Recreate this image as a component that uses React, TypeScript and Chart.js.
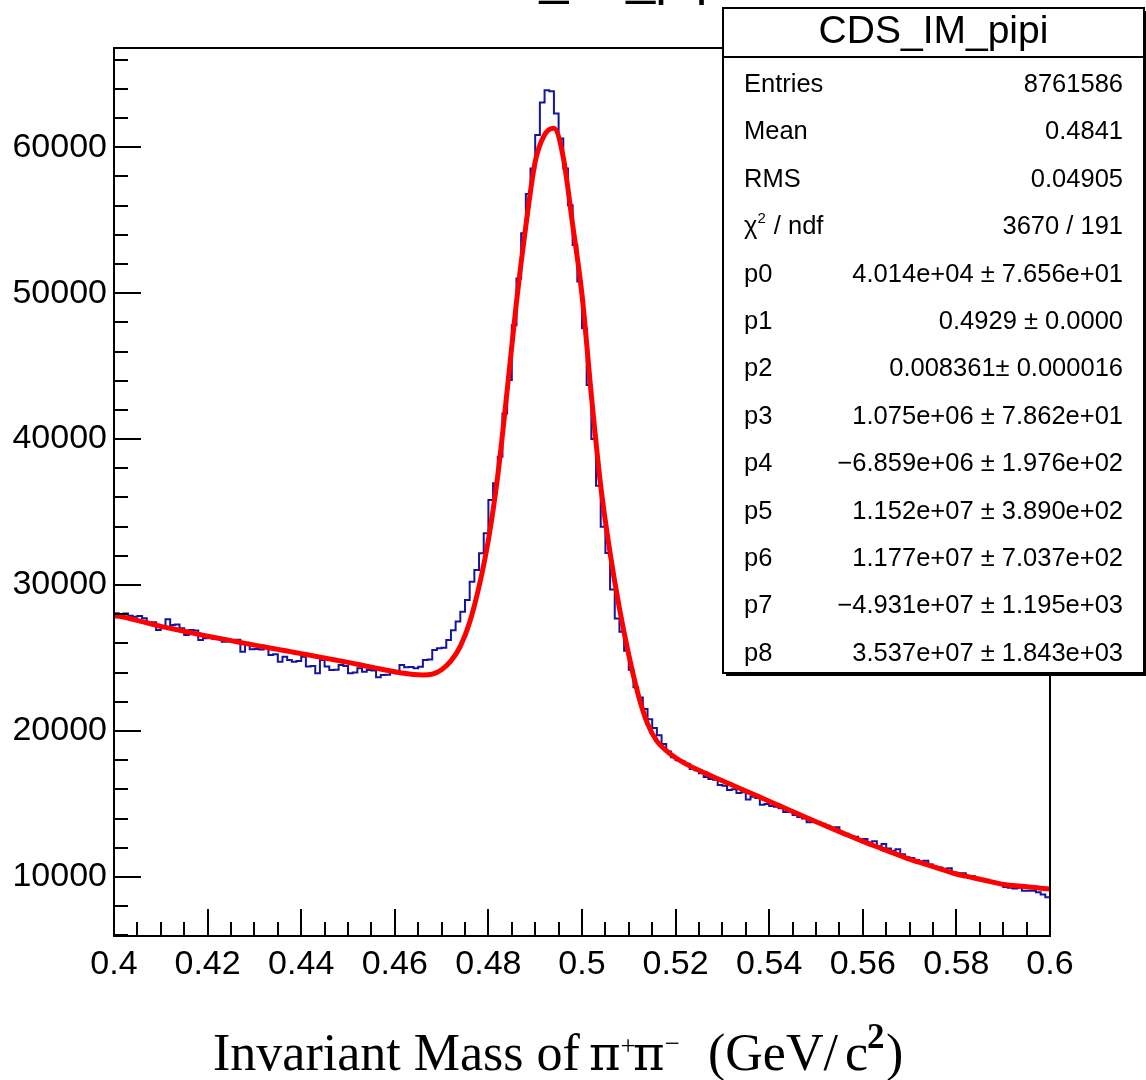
import React, { useEffect, useRef } from 'react';
import { Chart, registerables } from 'chart.js';

Chart.register(...registerables);

// ---------------- data ----------------
const X_MIN = 0.4;
const X_MAX = 0.6;
const BIN_WIDTH = 0.001; // 200 bins
const FIT_STEP = 0.002; // fit curve sampled every 0.002
const Y_MIN = 5950;
const Y_MAX = 66800;

const histCounts: number[] = [
  28060, 27950, 28050, 27900, 27830, 27880, 27720, 27380, 27450, 26920,
  27150, 27650, 27260, 27300, 27030, 26580, 26920, 26880, 26230, 26350,
  26400, 26320, 26380, 26120, 26150, 26230, 26250, 25430, 25890, 25600,
  25620, 25580, 25730, 25200, 25250, 24750, 25090, 24870, 24750, 24800,
  25090, 24410, 24450, 23950, 24870, 24410, 24180, 24200, 24520, 24450,
  23950, 24000, 24300, 24060, 24180, 24150, 23680, 23830, 23850, 24000,
  23950, 24520, 24360, 24380, 24300, 24400, 24870, 24900, 25550, 25660,
  25700, 26230,
  26900, 27500, 28170, 28970, 30230, 31030, 32170, 33540, 35830, 36970,
  38790, 41760, 44050, 47800, 51000, 54100, 56800, 58550, 60830, 63070,
  63910, 63840, 62310, 60600, 58550, 56030, 53300, 50800,
  47600, 43700, 40000, 36800, 34000, 32200, 29700, 27700, 26800, 25500,
  24200, 23000, 22300, 21500, 20800, 20200, 19700, 19100, 18600, 18200,
  18000, 17900, 17750, 17400, 17300, 17100, 16850, 16700, 16650, 16300,
  16250, 15950, 16000, 15750, 15800, 15300, 15500, 15400, 14950, 15000,
  14850, 14800, 14700, 14450, 14500, 14250, 14100, 14000, 13750, 13800,
  13750, 13650, 13500, 13350, 13400, 13000, 12950, 12800, 12750, 12500,
  12600, 12350, 12450, 12100, 12250, 11950, 11800, 11900, 11550, 11350,
  11300, 11150, 11050, 11100, 10850, 10700, 10650, 10550, 10600, 10300,
  10150, 10250, 10050, 10050, 9900, 9850, 9800, 9650, 9600, 9550,
  9300, 9250, 9200, 9250, 9050, 9050, 9050, 8950, 8800, 8600,
];

const fitValues: number[] = [
  27900, 27800, 27650, 27490, 27330, 27170, 27036, 26900, 26763, 26627,
  26491, 26369, 26248, 26126, 26005, 25883, 25766, 25650, 25533, 25417,
  25300, 25180, 25060, 24940, 24819, 24699, 24568, 24437, 24306, 24175,
  24061, 23950, 23870, 23840, 23900, 24200, 24800, 25800, 27450, 29900,
  33100, 37500, 43300, 49400, 54600, 59000, 60850, 61300, 59300, 54700,
  49900, 43000, 36800, 32200, 28400, 25200, 22500, 20500, 19300, 18659,
  18168, 17779, 17451, 17155, 16864, 16591, 16309, 16027, 15746, 15464,
  15182, 14901, 14620, 14339, 14058, 13777, 13508, 13238, 12969, 12699,
  12430, 12186, 11942, 11698, 11454, 11210, 11007, 10804, 10602, 10399,
  10196, 10053, 9909, 9766, 9622, 9479, 9416, 9353, 9291, 9228,
  9165,
];

const xTickValues = [0.4, 0.42, 0.44, 0.46, 0.48, 0.5, 0.52, 0.54, 0.56, 0.58, 0.6];
const xTickLabels = ['0.4', '0.42', '0.44', '0.46', '0.48', '0.5', '0.52', '0.54', '0.56', '0.58', '0.6'];
const yTickValues = [10000, 20000, 30000, 40000, 50000, 60000];
const yTickLabels = ['10000', '20000', '30000', '40000', '50000', '60000'];
const X_MINOR_STEP = 0.005;
const Y_MINOR_STEP = 2000;

const plotTitle = 'CDS_IM_pipi';
const statsTitle = 'CDS_IM_pipi';
const statsLabels = ['Entries', 'Mean', 'RMS', 'CHI2', 'p0', 'p1', 'p2', 'p3', 'p4', 'p5', 'p6', 'p7', 'p8'];
const statsValues = [
  '8761586',
  '0.4841',
  '0.04905',
  '3670 / 191',
  '4.014e+04 \u00b1 7.656e+01',
  '0.4929 \u00b1 0.0000',
  '0.008361\u00b1 0.000016',
  '1.075e+06 \u00b1 7.862e+01',
  '\u22126.859e+06 \u00b1 1.976e+02',
  '1.152e+07 \u00b1 3.890e+02',
  '1.177e+07 \u00b1 7.037e+02',
  '\u22124.931e+07 \u00b1 1.195e+03',
  '3.537e+07 \u00b1 1.843e+03',
];

// ---------------- styling ----------------
const SANS = '"Liberation Sans", Arial, Helvetica, sans-serif';
const SERIF = '"Liberation Serif", "Times New Roman", Times, serif';
const GREEK = '"DejaVu Serif", "Liberation Serif", serif';
const HIST_COLOR = '#14149c';
const FIT_COLOR = '#ff0000';

const rootDecor = {
  id: 'rootDecor',
  afterDraw(chart: any) {
    const { ctx, chartArea: ca } = chart;
    const xs = chart.scales.x;
    const ys = chart.scales.y;
    ctx.save();
    ctx.strokeStyle = '#000';
    ctx.lineCap = 'butt';

    // y ticks (inside)
    ctx.lineWidth = 2;
    for (let v = 6000; v <= Y_MAX; v += Y_MINOR_STEP) {
      const py = Math.round(ys.getPixelForValue(v));
      if (py < ca.top || py > ca.bottom) continue;
      const major = v % 10000 === 0;
      const len = major ? 27 : 14;
      ctx.beginPath();
      ctx.moveTo(ca.left, py);
      ctx.lineTo(ca.left + len, py);
      ctx.stroke();
    }
    // x ticks (inside)
    const nMinor = Math.round((X_MAX - X_MIN) / X_MINOR_STEP);
    for (let i = 0; i <= nMinor; i++) {
      const v = X_MIN + i * X_MINOR_STEP;
      const px = Math.round(xs.getPixelForValue(v));
      const major = i % 4 === 0;
      const len = major ? 27 : 14;
      ctx.beginPath();
      ctx.moveTo(px, ca.bottom);
      ctx.lineTo(px, ca.bottom - len);
      ctx.stroke();
    }
    // frame
    ctx.lineWidth = 2;
    ctx.strokeRect(ca.left, ca.top, ca.right - ca.left, ca.bottom - ca.top);

    // partially visible histogram title at the top
    ctx.fillStyle = '#000';
    ctx.font = `52px ${SANS}`;
    ctx.textAlign = 'center';
    ctx.textBaseline = 'alphabetic';
    ctx.fillText(plotTitle, 583, -6);

    // stats box
    const bx = 723, by = 8, bw = 421, bh = 665;
    ctx.fillStyle = '#fff';
    ctx.fillRect(bx, by, bw, bh);
    ctx.fillStyle = '#000';
    ctx.fillRect(bx + 3, by + bh, bw, 3);
    ctx.fillRect(bx + bw, by + 3, 3, bh);
    ctx.lineWidth = 2;
    ctx.strokeRect(bx, by, bw, bh);
    ctx.beginPath();
    ctx.moveTo(bx, 57);
    ctx.lineTo(bx + bw, 57);
    ctx.stroke();

    ctx.fillStyle = '#000';
    ctx.font = `39px ${SANS}`;
    ctx.textAlign = 'center';
    ctx.fillText(statsTitle, bx + bw / 2, 43);

    const rowFont = `25.5px ${SANS}`;
    for (let i = 0; i < statsLabels.length; i++) {
      const base = 83 + 47.4 * i + 9;
      ctx.font = rowFont;
      ctx.textAlign = 'left';
      if (statsLabels[i] === 'CHI2') {
        let x0 = 744;
        ctx.fillText('\u03c7', x0, base);
        x0 += ctx.measureText('\u03c7').width;
        ctx.font = `15px ${SANS}`;
        ctx.fillText('2', x0, base - 11);
        x0 += ctx.measureText('2').width + 1;
        ctx.font = rowFont;
        ctx.fillText(' / ndf', x0, base);
      } else {
        ctx.fillText(statsLabels[i], 744, base);
      }
      ctx.textAlign = 'right';
      ctx.fillText(statsValues[i], 1123, base);
    }

    // x-axis title (pieces; "at" = fixed start x, otherwise continue)
    const parts: { t: string; f: string; dy: number; at?: number }[] = [
      { t: 'Invariant Mass of ', f: `52px ${SERIF}`, dy: 0, at: 213 },
      { t: '\u03c0', f: `48px ${GREEK}`, dy: 0, at: 589 },
      { t: '+', f: `27px ${SERIF}`, dy: -15 },
      { t: '\u03c0', f: `48px ${GREEK}`, dy: 0, at: 633 },
      { t: '\u2212', f: `27px ${SERIF}`, dy: -18 },
      { t: '(GeV/', f: `52px ${SERIF}`, dy: 0, at: 708 },
      { t: 'c', f: `52px ${SERIF}`, dy: 0, at: 845 },
      { t: '2', f: `bold 35px ${SERIF}`, dy: -22, at: 867 },
      { t: ')', f: `52px ${SERIF}`, dy: 0, at: 886 },
    ];
    ctx.textAlign = 'left';
    ctx.textBaseline = 'alphabetic';
    let cx = 213;
    for (const p of parts) {
      if (p.at !== undefined) cx = p.at;
      ctx.font = p.f;
      ctx.fillText(p.t, cx, 1070 + p.dy);
      cx += ctx.measureText(p.t).width;
    }

    ctx.restore();
  },
};

export default function App() {
  const canvasRef = useRef<HTMLCanvasElement | null>(null);

  useEffect(() => {
    const canvas = canvasRef.current;
    if (!canvas) return;

    const histPoints = histCounts.map((c, i) => ({ x: X_MIN + i * BIN_WIDTH, y: c }));
    histPoints.push({ x: X_MAX, y: histCounts[histCounts.length - 1] });
    const fitPoints = fitValues.map((v, i) => ({ x: X_MIN + i * FIT_STEP, y: v }));

    const tickFont = { family: SANS, size: 34 };

    const chart = new Chart(canvas, {
      type: 'line',
      data: {
        datasets: [
          {
            label: 'fit',
            data: fitPoints,
            borderColor: FIT_COLOR,
            borderWidth: 5,
            pointRadius: 0,
            cubicInterpolationMode: 'monotone',
            fill: false,
            order: 0,
          },
          {
            label: 'CDS_IM_pipi',
            data: histPoints,
            borderColor: HIST_COLOR,
            borderWidth: 2,
            pointRadius: 0,
            stepped: true,
            fill: false,
            borderJoinStyle: 'miter',
            order: 1,
          },
        ],
      },
      options: {
        responsive: false,
        animation: false,
        devicePixelRatio: 1,
        events: [],
        layout: { padding: { left: 0, top: 48, right: 96, bottom: 0 } },
        plugins: {
          legend: { display: false },
          tooltip: { enabled: false },
          title: { display: false },
        },
        scales: {
          x: {
            type: 'linear',
            min: X_MIN,
            max: X_MAX,
            grid: { display: false, drawTicks: false },
            border: { display: false },
            afterBuildTicks: (s: any) => {
              s.ticks = xTickValues.map((v) => ({ value: v }));
            },
            afterFit: (s: any) => {
              s.height = 144;
            },
            ticks: {
              autoSkip: false,
              maxRotation: 0,
              minRotation: 0,
              padding: 8,
              color: '#000',
              font: tickFont,
              callback: (_v: any, i: number) => xTickLabels[i],
            },
          },
          y: {
            type: 'linear',
            min: Y_MIN,
            max: Y_MAX,
            grid: { display: false, drawTicks: false },
            border: { display: false },
            afterBuildTicks: (s: any) => {
              s.ticks = yTickValues.map((v) => ({ value: v }));
            },
            afterFit: (s: any) => {
              s.width = 114;
            },
            ticks: {
              autoSkip: false,
              padding: 7,
              color: '#000',
              font: tickFont,
              callback: (_v: any, i: number) => yTickLabels[i],
            },
          },
        },
      },
      plugins: [rootDecor],
    } as any);

    return () => {
      chart.destroy();
    };
  }, []);

  return (
    <div style={{ position: 'absolute', left: 0, top: 0, width: 1146, height: 1080, background: '#fff' }}>
      <canvas ref={canvasRef} width={1146} height={1080} style={{ display: 'block' }} />
    </div>
  );
}
